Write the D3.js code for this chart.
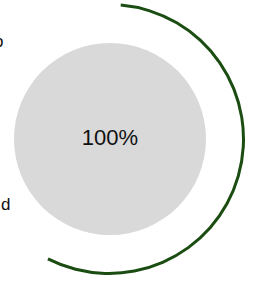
<!DOCTYPE html>
<html>
<head>
<meta charset="utf-8">
<script src="https://cdn.jsdelivr.net/npm/d3@7"></script>
<style>
    body { margin: 0; background: #fff; }
    svg { display: block; }
    text { font-family: "Liberation Sans", Arial, sans-serif; }
</style>
</head>
<body>
<div id="chart"></div>
<script>
// values
var percent = [100];
var labels = ["o", "d"];
var arcSpan = [5, 207]; // degrees, clockwise from 12 o'clock

var width = 254,
    height = 282;

var svg = d3.select("#chart")
    .append("svg")
    .attr("width", width)
    .attr("height", height);

var angle = d3.scaleLinear()
    .domain([0, 100])
    .range([arcSpan[0] * Math.PI / 180, arcSpan[1] * Math.PI / 180]);

// outer progress arc
var arc = d3.arc()
    .innerRadius(133)
    .outerRadius(136)
    .startAngle(angle(0))
    .endAngle(function(d) {
        return angle(d);
    });

svg.append("g")
    .attr("transform", "translate(109,139)")
    .selectAll("path")
    .data(percent)
    .enter().append("path")
    .attr("d", arc)
    .style("fill", "#1b4d12");

// inner disc
var disc = svg.append("g")
    .attr("transform", "translate(110,139)");

disc.append("circle")
    .attr("r", 96)
    .style("fill", "#d9d9d9");

disc.selectAll("text")
    .data(percent)
    .enter().append("text")
    .attr("text-anchor", "middle")
    .attr("y", -2)
    .attr("dy", "0.35em")
    .style("font-size", "22px")
    .style("fill", "#111")
    .text(function(d) {
        return d + "%";
    });

// labels clipped at the left edge (as in the original)
var labelY = [47, 210];
svg.selectAll(".lbl")
    .data(labels)
    .enter().append("text")
    .attr("class", "lbl")
    .attr("x", function(d, i) {
        return i == 0 ? -6 : 1;
    })
    .attr("y", function(d, i) {
        return labelY[i];
    })
    .style("font-size", "17px")
    .style("fill", "#111")
    .text(function(d) {
        return d;
    });
</script>
</body>
</html>
